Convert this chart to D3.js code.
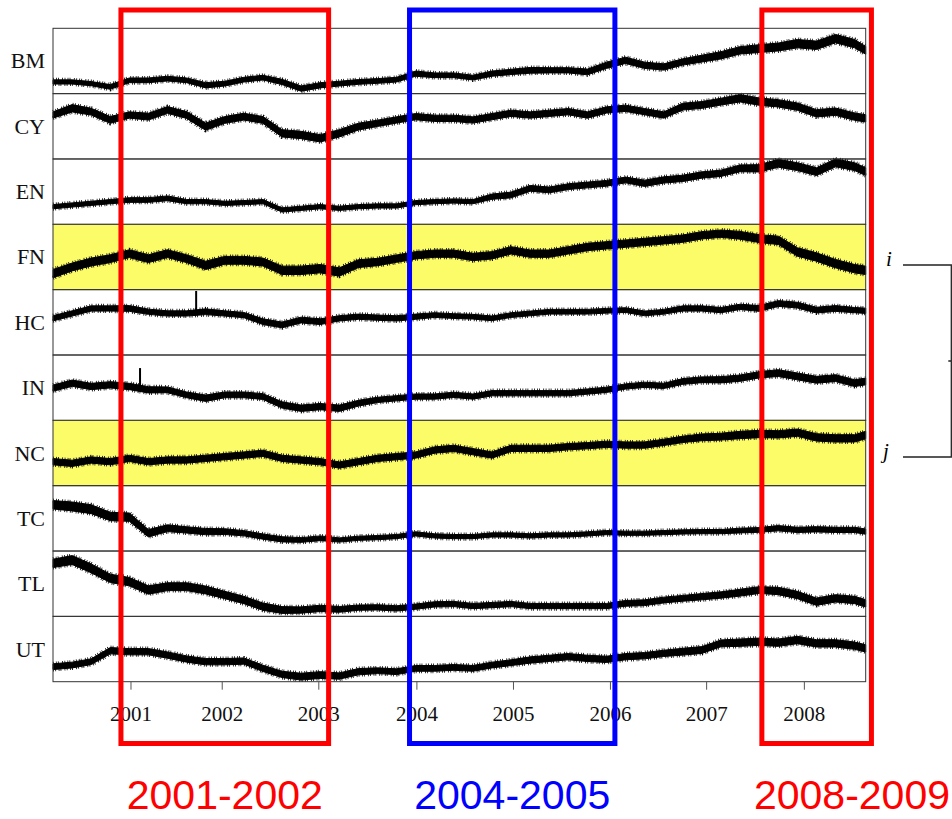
<!DOCTYPE html>
<html>
<head>
<meta charset="utf-8">
<script src="https://cdn.jsdelivr.net/npm/d3@7"></script>
<style>
  body { margin: 0; background: #fff; }
  svg { display: block; }
</style>
</head>
<body>
<div id="chart"></div>
<script>
var names = ["BM", "CY", "EN", "FN", "HC", "IN", "NC", "TC", "TL", "UT"];
var highlighted = ["FN", "NC"];

// sample positions, in trading days from the first observation
var days = [0, 50, 100, 150, 200, 250, 300, 350, 400, 450, 500, 550, 600, 650, 700,
  750, 800, 850, 900, 950, 1000, 1050, 1100, 1150, 1200, 1250, 1300, 1350, 1400,
  1450, 1500, 1550, 1600, 1650, 1700, 1750, 1800, 1850, 1900, 1950, 2000, 2050,
  2100, 2129];

var years = [2001, 2002, 2003, 2004, 2005, 2006, 2007, 2008];
var yearDays = [203, 442, 695, 952, 1205, 1459, 1711, 1967];

var bmLevel = [17.9,17.9,15.3,10.2,20.4,20.4,23,20.4,12.8,15.3,21.4,24.5,17.9,7.7,12.8,15.3,17.9,19.4,21.4,30.6,28.1,28.1,24.5,30.6,33.2,35.7,35.7,35.7,33.2,43.4,51,43.4,40.8,48.5,53.6,58.7,66.3,68.9,71.4,76.5,74,84.2,76.5,66.3];
var cyLevel = [67.3,77.6,72.4,59.7,67.3,64.8,75,67.3,49.5,59.7,64.8,59.7,39.3,36.7,31.6,39.3,49.5,54.6,59.7,64.8,62.2,62.2,59.7,64.8,69.9,67.3,69.9,72.4,67.3,75,77.6,72.4,67.3,80.1,82.7,87.8,92.9,87.8,85.2,80.1,69.9,72.4,64.8,62.2];
var enLevel = [27,29.6,32.1,34.7,37.2,37.2,39.8,34.7,34.7,32.1,33.2,34.7,22,24.5,27,24.5,27,28.1,28.1,33.2,34.7,35.7,34.7,42.3,44.9,55.1,52.6,57.7,60.2,62.8,67.9,62.8,67.9,70.4,75.5,78.1,85.7,85.7,93.4,88.3,80.6,94,88.3,80.6];
var fnLevel = [24.5,34.7,42.3,47.4,55.1,47.4,55.1,47.4,37.2,44.9,44.9,42.3,29.6,29.6,32.1,27,39.8,42.3,47.4,52.6,55.1,55.1,50,52.6,60.2,55.1,55.1,60.2,65.3,67.9,70.4,73,75.5,78.1,83.2,85.7,83.2,78.1,75.5,57.7,50,39.8,32.1,29.6];
var hcLevel = [56.1,63.6,71.2,71.2,71.2,66.2,63.6,63.6,66.2,63.6,61.1,51,46,53.5,51,56.1,58.6,57.1,56.1,58.6,61.1,59.6,58.6,56.1,61.1,63.6,66.2,66.2,66.2,67.7,68.7,63.6,66.2,71.2,71.2,68.7,73.7,71.2,78.8,76.3,68.7,71.2,68.7,67.7];
var inLevel = [49.2,56.9,51.8,54.4,51.8,46.7,46.7,39,33.8,39,39,36.4,23.6,18.5,21,18.5,26.2,31.3,33.8,36.4,36.4,39,36.4,41.5,41.5,41.5,41.5,41.5,44.1,46.7,51.8,54.4,52.8,59.5,62.1,62.1,64.6,69.7,72.3,67.2,62.1,64.6,56.9,59.5];
var ncLevel = [36.7,34.2,39.3,36.7,41.8,36.7,39.3,39.3,41.8,44.4,46.9,49.5,41.8,39.3,36.7,31.6,36.7,41.8,44.4,46.9,54.6,57.1,52,46.9,57.1,57.1,57.1,59.7,61.2,63.3,62.2,62.2,66.3,70.9,74,75,77.6,79.1,78.6,81.1,73.9,72.4,72.4,77.6];
var tcLevel = [70.8,68.2,64,52.8,51.8,27.2,34.9,32.3,29.7,29.7,27.2,22.1,17.9,16.9,19.5,16.9,19.5,20.5,22.1,26.2,23.1,22.1,22.1,24.6,24.6,23.1,24.6,24.6,26.2,28.2,27.2,27.2,28.2,29.2,29.7,29.7,31.3,32.3,34.9,32.3,33.3,32.3,32.3,29.7];
var tlLevel = [81.1,86.2,73.5,58.2,53.1,40.3,45.4,45.4,40.3,32.7,25,14.8,9.7,9.7,12.2,10.7,13.3,13.8,12.2,14.8,18.4,18.9,15.8,17.3,18.9,15.8,15.8,15.8,15.8,15.8,19.9,20.9,25,27.6,30.1,32.7,36.2,40.3,38.8,32.7,22.4,27.6,25,19.9];
var utLevel = [23,25.5,30.6,47.4,45.9,45.9,40.8,34.7,30.6,30.6,31.6,20.4,11.2,7.7,10.2,8.7,15.3,16.8,15.3,20.4,20.4,21.9,20.4,25.5,29.1,33.2,35.7,38.3,35.7,34.2,38.3,39.8,43.4,45.9,48.5,58.7,59.7,61.2,59.7,63.8,58.7,58.7,55.1,51];

// half width of the noisy band, same units
var bmSpread = [4,4,4,4.5,4.5,4.5,4.5,4.5,5,4.5,4.5,4.5,5,5,5,4.5,4.5,4.5,4.5,5,4.5,4.5,4.5,5,5,5.5,5,5,5.5,6,6,6,6,6,6.5,7,7,7.5,7.5,8,8,8,8,7.5];
var cySpread = [6,7,6.5,6.5,6,6.5,6.5,6.5,7,6.5,6.5,6.5,7,7,7,7,6.5,6,6,6,6,6,6,6,6,6,6,6,6,6,6,6,6,6.5,6.5,6.5,7,7,7,7,7,7,7,7];
var enSpread = [4,4,4,4,4.5,4.5,4.5,4,4,4,4,4,4,4,4,4,4,4,4,4,4,4,4,5,5.5,5.5,5.5,5.5,5.5,5.5,5.5,6,6,6,6,6,6.5,7,7.5,7.5,7.5,7.5,7.5,7.5];
var fnSpread = [8,7.5,7.5,7.5,7.5,7.5,7.5,7.5,8,7.5,7.5,7.5,8,8,8,8,7.5,7,7,7,7,7,7,7,7,7,7,7,7,7,7,7,7,7,7,7,7.5,7.5,8,8,8,8,8,8];
var hcSpread = [5,5,5,5,5.5,5,5,5,5.5,5,5,5.5,5.5,5.5,5.5,5,5,5,5,5,4.5,4.5,4.5,4.5,4.5,4.5,4.5,4.5,4.5,4.5,4.5,4.5,4.5,5,5,5,5,5.5,5.5,5.5,5.5,5.5,5,5];
var inSpread = [6,6,6,6,6,6,5.5,5.5,6,5.5,5.5,5.5,6,6,6,6,5.5,5,5,5,5,5,5,5,5,5,5,5,5,5,5,5,5,5.5,5.5,6,6,6,6.5,6.5,6.5,6.5,6.5,6.5];
var ncSpread = [6,6,6,6,6,6,6,6,6,6,6,6,6,6,6,6,6,6,6,6,6,6,6,6,6,6,6,6,6,6,6,6,6,6,6.5,6.5,7,7,7,7,7,7,7,7];
var tcSpread = [8,8.5,8.5,8,8,7,6.5,6,6,5.5,5,5,5,4.5,4.5,4,4,4,4,4,4,4,4,4,4,4,4,4,4,4,4,4,4,4,4,4,4.5,4.5,5,5,5,5,5,5];
var tlSpread = [8,8.5,8.5,8,8,8,7.5,7.5,7.5,7,7,7,6.5,6,6,5.5,5,5,5,5,5,5,5,5,5,5,5,5,5,5,5.5,5.5,5.5,5.5,6,6,6.5,6.5,7,7,7,7,7,7];
var utSpread = [5.5,5.5,5.5,6,6,6,6,6,6,6,6,6,6,6.5,6.5,6,6,5.5,5.5,5.5,5.5,5.5,5.5,5.5,5.5,6,6,6,6,6,6,6,6,6.5,6.5,6.5,7,7,7,7,7,7,7,7];

// single-day jumps
var spikeNames = ["HC", "IN"];
var spikeDays = [375, 228];
var spikeLevels = [98, 80];

// periods marked with boxes
var periodLabels = ["2001-2002", "2004-2005", "2008-2009"];
var periodColors = ["#ff0000", "#0000ff", "#ff0000"];
var periodStart = [178, 934, 1857];
var periodEnd = [722, 1472, 2144];

var levels = [bmLevel, cyLevel, enLevel, fnLevel, hcLevel, inLevel, ncLevel, tcLevel, tlLevel, utLevel];
var spreads = [bmSpread, cySpread, enSpread, fnSpread, hcSpread, inSpread, ncSpread, tcSpread, tlSpread, utSpread];

// layout
var svgWidth = 952;
var svgHeight = 819;
var margin = { top: 28.3, right: 86.3, bottom: 137.3, left: 53 };
var width = svgWidth - margin.left - margin.right;
var height = svgHeight - margin.top - margin.bottom;
var panelH = height / names.length;

var svg = d3.select("#chart")
  .append("svg")
  .attr("width", svgWidth)
  .attr("height", svgHeight);

var x = d3.scaleLinear()
  .domain([0, 2129])
  .range([margin.left, margin.left + width]);

var panelScale = d3.scaleBand()
  .domain(names)
  .range([margin.top, margin.top + height]);

var chartGroup = svg.append("g");

names.forEach(function(name, k) {
  var top = panelScale(name);
  var y = d3.scaleLinear().domain([0, 100]).range([top + panelH, top]);
  var g = chartGroup.append("g");

  // highlighted rows get a yellow background
  g.append("rect")
    .attr("x", margin.left)
    .attr("y", top)
    .attr("width", width)
    .attr("height", panelH)
    .attr("fill", highlighted.indexOf(name) >= 0 ? "#fcfc68" : "none");

  var rows = days.map(function(d, i) {
    return { day: d, level: levels[k][i], spread: spreads[k][i] };
  });

  // dense core of the trace
  var core = 0.8;
  var band = d3.area()
    .x(d => x(d.day))
    .y0(d => y(d.level - d.spread * core))
    .y1(d => y(d.level + d.spread * core));

  g.append("path")
    .datum(rows)
    .attr("d", band)
    .attr("fill", "#000")
    .attr("stroke", "#000")
    .attr("stroke-width", 1);

  // ragged edges of the trace
  var upper = d3.line().x(d => x(d.day)).y(d => y(d.level + d.spread * core));
  var lower = d3.line().x(d => x(d.day)).y(d => y(d.level - d.spread * core));
  [upper, lower].forEach(function(edge, e) {
    g.append("path")
      .datum(rows)
      .attr("d", edge)
      .attr("fill", "none")
      .attr("stroke", "#000")
      .attr("stroke-width", 4)
      .attr("stroke-dasharray", e ? "0.8,1.4,0.8,2.6,0.8,1.1,0.8,3.2"
                                  : "0.8,2.2,0.8,1.2,0.8,3.4,0.8,1.6");
  });

  spikeNames.forEach(function(s, i) {
    if (s !== name) return;
    var idx = d3.bisectLeft(days, spikeDays[i]);
    var base = d3.interpolateNumber(levels[k][idx - 1], levels[k][idx])(
      (spikeDays[i] - days[idx - 1]) / (days[idx] - days[idx - 1]));
    g.append("line")
      .attr("x1", x(spikeDays[i]))
      .attr("x2", x(spikeDays[i]))
      .attr("y1", y(base))
      .attr("y2", y(spikeLevels[i]))
      .attr("stroke", "#000")
      .attr("stroke-width", 2);
  });

  g.append("rect")
    .attr("x", margin.left)
    .attr("y", top)
    .attr("width", width)
    .attr("height", panelH)
    .attr("fill", "none")
    .attr("stroke", "#333")
    .attr("stroke-width", 1);

  g.append("text")
    .attr("x", margin.left - 8)
    .attr("y", top + panelH / 2 + 7.5)
    .attr("text-anchor", "end")
    .attr("font-family", "Liberation Serif, Times New Roman, serif")
    .attr("font-size", 22)
    .attr("fill", "#111")
    .text(name);
});

// year axis
var bottomAxis = d3.axisBottom(x)
  .tickValues(yearDays)
  .tickFormat((d, i) => years[i])
  .tickSize(8);

var xAxis = svg.append("g")
  .attr("transform", `translate(0, ${margin.top + height})`)
  .call(bottomAxis);
xAxis.select(".domain").remove();
xAxis.selectAll("line").attr("stroke", "#555");
xAxis.selectAll("text")
  .attr("y", 24)
  .attr("fill", "#111")
  .attr("font-family", "Liberation Serif, Times New Roman, serif")
  .attr("font-size", 21);

// period boxes and their captions
periodLabels.forEach(function(label, i) {
  var x0 = x(periodStart[i]);
  var x1 = x(periodEnd[i]);
  svg.append("rect")
    .attr("x", x0)
    .attr("y", 10)
    .attr("width", x1 - x0)
    .attr("height", 733.5)
    .attr("fill", "none")
    .attr("stroke", periodColors[i])
    .attr("stroke-width", 5);

  var last = i === periodLabels.length - 1;
  svg.append("text")
    .attr("x", last ? svgWidth - 2 : (x0 + x1) / 2)
    .attr("y", 809)
    .attr("text-anchor", last ? "end" : "middle")
    .attr("font-family", "Liberation Sans, Arial, sans-serif")
    .attr("font-size", 41)
    .attr("fill", periodColors[i])
    .text(label);
});

// bracket joining the two highlighted rows
var yi = panelScale("FN") + panelH / 2 + 8;
var yj = panelScale("NC") + panelH / 2 + 4;
var bx = 951.3;
svg.append("path")
  .attr("d", `M903,${yi}H${bx}V${yj}H903M${bx},${(yi + yj) / 2}h-3`)
  .attr("fill", "none")
  .attr("stroke", "#222")
  .attr("stroke-width", 1.3);

svg.append("text")
  .attr("x", 889)
  .attr("y", yi + 1)
  .attr("text-anchor", "middle")
  .attr("font-family", "Liberation Serif, Times New Roman, serif")
  .attr("font-style", "italic")
  .attr("font-size", 21)
  .text("i");

svg.append("text")
  .attr("x", 886)
  .attr("y", yj + 1)
  .attr("text-anchor", "middle")
  .attr("font-family", "Liberation Serif, Times New Roman, serif")
  .attr("font-style", "italic")
  .attr("font-size", 21)
  .text("j");
</script>
</body>
</html>
